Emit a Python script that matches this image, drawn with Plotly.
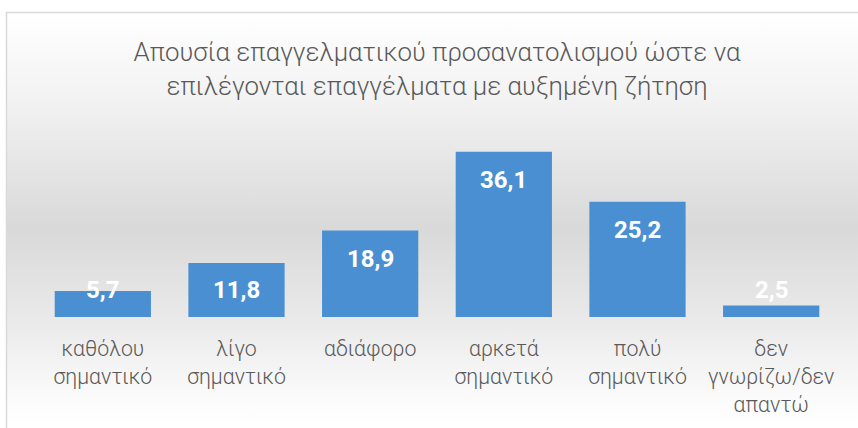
import base64
import plotly.graph_objects as go

categories = [
    "καθόλου<br>σημαντικό",
    "λίγο<br>σημαντικό",
    "αδιάφορο",
    "αρκετά<br>σημαντικό",
    "πολύ<br>σημαντικό",
    "δεν<br>γνωρίζω/δεν<br>απαντώ",
]
values = [5.7, 11.8, 18.9, 36.1, 25.2, 2.5]
title_text = "Απουσία επαγγελματικού προσανατολισμού ώστε να<br>επιλέγονται επαγγέλματα με αυξημένη ζήτηση"

W, H = 858, 428
M_L, M_R, M_T, M_B = 36, 20, 134, 111
Y_MAX = 40
FONT = "Roboto"
GREY_TXT = "#595959"

# background panel with the soft grey gradient (Excel style), border only on top/left
BW, BH = W + 40, H + 20
svg = f"""<svg xmlns='http://www.w3.org/2000/svg' width='{BW}' height='{BH}' viewBox='0 0 {BW} {BH}' preserveAspectRatio='none'>
<defs><linearGradient id='g' gradientUnits='userSpaceOnUse' x1='0' y1='12' x2='0' y2='{H}'>
<stop offset='0' stop-color='#ffffff'/>
<stop offset='0.2' stop-color='#f3f3f3'/>
<stop offset='0.52' stop-color='#d9d9d9'/>
<stop offset='0.72' stop-color='#e8e8e8'/>
<stop offset='0.93' stop-color='#fbfbfb'/>
<stop offset='1' stop-color='#ffffff'/>
</linearGradient></defs>
<rect x='0' y='0' width='{BW}' height='{BH}' fill='#ffffff'/>
<rect x='6.5' y='12.5' width='{BW}' height='{BH}' fill='url(#g)'/>
<path d='M6.5,{BH} V12.5 H{BW}' fill='none' stroke='#d9d9d9' stroke-width='1.5'/>
</svg>"""
bg_src = "data:image/svg+xml;base64," + base64.b64encode(svg.encode("utf-8")).decode("ascii")

pw = W - M_L - M_R
ph = H - M_T - M_B
px_per_unit = ph / Y_MAX

fig = go.Figure()

fig.add_trace(go.Bar(
    x=categories,
    y=values,
    width=0.72,
    marker=dict(color="#4a8fd2", line=dict(width=0)),
    hoverinfo="skip",
))

# value labels: inside end, pushed up above the bar when it is too short
for cat, v in zip(categories, values):
    if v * px_per_unit > 55:
        y, shift = v, -28
    else:
        y, shift = 0, 27
    fig.add_annotation(
        x=cat, y=y, yshift=shift,
        text=f"<b>{v:.1f}".replace(".", ",") + "</b>",
        showarrow=False,
        font=dict(family=FONT, size=24, color="white"),
        xanchor="center", yanchor="middle",
    )

fig.add_layout_image(
    source=bg_src,
    xref="paper", yref="paper",
    x=-M_L / pw, y=1 + M_T / ph,
    sizex=BW / pw, sizey=BH / ph,
    xanchor="left", yanchor="top",
    sizing="stretch", layer="below",
)

fig.update_layout(
    width=W, height=H,
    margin=dict(l=M_L, r=M_R, t=M_T, b=M_B),
    paper_bgcolor="rgba(0,0,0,0)",
    plot_bgcolor="rgba(0,0,0,0)",
    showlegend=False,
    bargap=0.28,
    title=dict(
        text=title_text,
        x=437 / W, xanchor="center",
        y=1 - 61 / H, yanchor="middle",
        font=dict(family=FONT, size=25.8, weight=300, color=GREY_TXT),
    ),
    xaxis=dict(
        showgrid=False, zeroline=False, showline=False,
        ticks="", ticklabelstandoff=17,
        tickfont=dict(family=FONT, size=21.3, weight=300, color=GREY_TXT),
    ),
    yaxis=dict(
        range=[0, Y_MAX], visible=False, showgrid=False, zeroline=False,
    ),
)

fig.write_html(
    "out.html",
    config={"displayModeBar": False},
    post_script=(
        "document.body.style.margin = '0';"
        "document.body.style.overflow = 'hidden';"
        "document.documentElement.style.overflow = 'hidden';"
    ),
)
